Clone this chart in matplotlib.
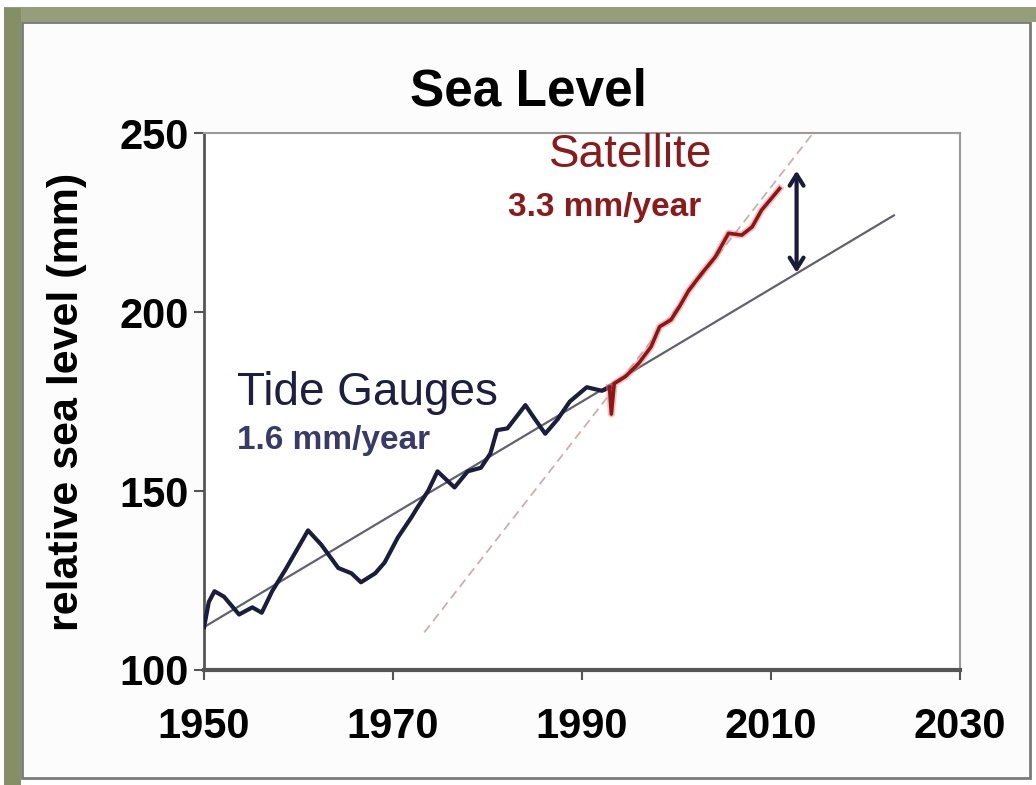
import matplotlib
matplotlib.use("Agg")
from matplotlib import pyplot as plt
from matplotlib.patches import Rectangle

plt.rcParams['font.family'] = ['Liberation Sans', 'DejaVu Sans']

# tide gauge record
tide_years = [1950.0, 1950.5, 1951.1, 1952.1, 1953.7, 1955.1, 1956.1, 1957.2, 1958.6,
              1961.0, 1962.4, 1964.2, 1965.6, 1966.6, 1968.1, 1969.1, 1970.5, 1971.9,
              1972.6, 1973.7, 1974.7, 1976.5, 1977.9, 1979.3, 1980.3, 1981.0, 1982.1,
              1984.0, 1984.9, 1986.1, 1987.4, 1988.7, 1990.5, 1992.1, 1993.0]
tide_level = [112, 119, 122, 120.5, 115.5, 117.5, 116, 122, 128,
              139, 135, 128.5, 127, 124.5, 127, 130, 137, 142.5,
              145.5, 150, 155.5, 151, 155.5, 156.5, 160.5, 167, 167.5,
              174, 170.5, 166, 170, 175, 179, 178, 179]

# satellite record
sat_years = [1992.9, 1993.1, 1993.4, 1994.6, 1996.0, 1997.3, 1998.2, 1999.4, 2000.3,
             2001.3, 2002.7, 2004.1, 2005.5, 2006.9, 2008.0, 2009.0, 2010.5, 2010.9]
sat_level = [179, 171.5, 180, 182, 185.7, 190.3, 195.9, 197.8, 201.5,
             206.1, 210.9, 215.4, 222, 221.5, 223.8, 228.5, 233.2, 234.5]

# trend line end points
tide_trend_years = [1950, 2023]
tide_trend_level = [112, 227]
sat_trend_years = [1973.3, 2014.3]
sat_trend_level = [110.5, 249.5]

# gap arrow
gap_year = 2012.7
gap_low, gap_high = 211, 239.5

x_ticks = [1950, 1970, 1990, 2010, 2030]
y_ticks = [100, 150, 200, 250]

fig = plt.figure(figsize=(10.36, 7.85), dpi=100)
fig.patch.set_facecolor('white')

# picture frame
fig.patches.append(Rectangle((22/1036, 7/785), 1008/1036, 756/785, transform=fig.transFigure,
                             facecolor='#fcfcfc', edgecolor='#7a7a7a', lw=2, zorder=-2))
fig.patches.append(Rectangle((0.004, 0.972), 0.996, 0.019, transform=fig.transFigure,
                             facecolor='#959d7a', edgecolor='none', zorder=-2))
fig.patches.append(Rectangle((0.004, 0.0), 0.016, 0.99, transform=fig.transFigure,
                             facecolor='#868e68', edgecolor='none', zorder=-2))

ax = fig.add_axes([0.197, 0.1465, 0.7297, 0.684])
ax.set_facecolor('white')

ax.plot(tide_trend_years, tide_trend_level, color='#62626e', lw=1.6, zorder=2)
ax.plot(sat_trend_years, sat_trend_level, color='#c8b0b0', lw=1.3, ls=(0, (5, 3)), zorder=2)
ax.plot(tide_years, tide_level, color='#1c1c3c', lw=3, zorder=3)
ax.plot(sat_years, sat_level, color='#f08080', lw=5, alpha=0.5, zorder=3)
ax.plot(sat_years, sat_level, color='#8e1616', lw=2.6, zorder=4)

ax.annotate('', xy=(gap_year, gap_high), xytext=(gap_year, gap_low),
            arrowprops=dict(arrowstyle='<->, head_length=0.8, head_width=0.5',
                            color='#1a1a3a', lw=3, shrinkA=0, shrinkB=0), zorder=5)

ax.text(1953.5, 177.3, 'Tide Gauges', fontsize=33, color='#1e1e40', va='center', ha='left')
ax.text(1953.5, 164, '1.6 mm/year', fontsize=24, fontweight='bold', color='#3a3a68',
        va='center', ha='left')
ax.text(1995.1, 243.9, 'Satellite', fontsize=33, color='#8b1a1a', va='center', ha='center')
ax.text(1992.4, 229.3, '3.3 mm/year', fontsize=24, fontweight='bold', color='#8b1a1a',
        va='center', ha='center')

ax.set_xlim(1950, 2030)
ax.set_ylim(100, 250)
ax.set_xticks(x_ticks)
ax.set_yticks(y_ticks)
ax.tick_params(axis='both', direction='out', length=7, width=1.5, color='#555555',
               labelsize=30)
ax.tick_params(axis='x', pad=20)
ax.tick_params(axis='y', pad=4)
for lab in ax.get_xticklabels() + ax.get_yticklabels():
    lab.set_fontweight('bold')

ax.spines['left'].set_color('#555555')
ax.spines['left'].set_linewidth(2)
ax.spines['bottom'].set_color('#555555')
ax.spines['bottom'].set_linewidth(3)
ax.spines['top'].set_color('#9a9a9a')
ax.spines['top'].set_linewidth(1.5)
ax.spines['right'].set_color('#9a9a9a')
ax.spines['right'].set_linewidth(1.5)

ax.set_ylabel('relative sea level (mm)', fontsize=31, fontweight='bold')
ax.yaxis.set_label_coords(-0.155, 0.5)

fig.text(0.51, 0.883, 'Sea Level', fontsize=37, fontweight='bold', ha='center', va='center')

fig.savefig('out.png', dpi=100)
